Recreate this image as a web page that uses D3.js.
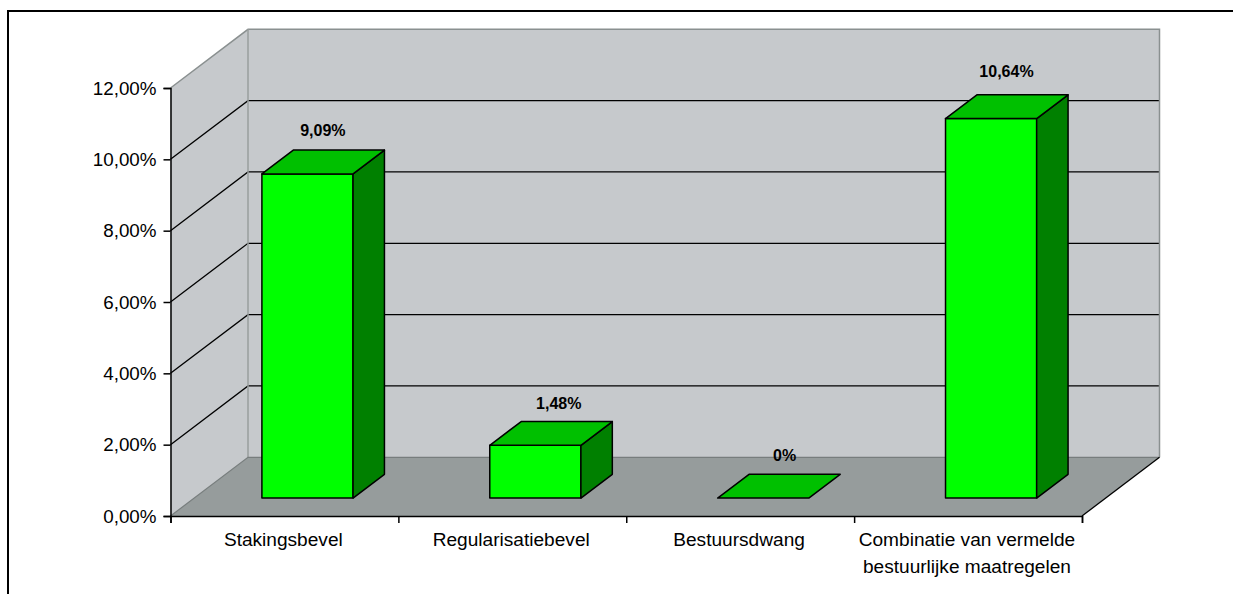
<!DOCTYPE html>
<html><head><meta charset="utf-8">
<script src="https://cdn.jsdelivr.net/npm/d3@7"></script>
<style>html,body{margin:0;padding:0;background:#fff}svg{display:block}text{font-family:"Liberation Sans",Arial,sans-serif;fill:#000}</style>
</head><body><svg id="c" width="1233" height="594"></svg>
<script>
const categories = ["Stakingsbevel","Regularisatiebevel","Bestuursdwang","Combinatie van vermelde|bestuurlijke maatregelen"];
const values = [9.09,1.48,0,10.64];
const valueLabels = ["9,09%","1,48%","0%","10,64%"];
const yTicks = [0,2,4,6,8,10,12];
const yTickLabels = ["0,00%","2,00%","4,00%","6,00%","8,00%","10,00%","12,00%"];
const labelNudgeX = [-16,-8,-10,-16];
const labelNudgeY = [1,2,2,-3];

const svg = d3.select("#c");
const L=170.5,R=1082,B=516,T=88,DX=77.5,DY=-58.7;
const x = d3.scaleBand(categories,[L-0.6,R-0.6]).paddingInner(0.6).paddingOuter(0.3);
const y = d3.scaleLinear([0,12],[B,T]);
const zx = d3.scaleLinear([0,1],[0,DX]);
const zy = d3.scaleLinear([0,1],[0,DY]);
const poly = pts => pts.map(p=>p.join(",")).join(" ");
const P=(px,v,z)=>[px+zx(z),y(v)+zy(z)];

// outer border (open at right and bottom)
svg.append("path").attr("d","M1233,11H8V594").attr("fill","none").attr("stroke","#000").attr("stroke-width",2);

// walls and floor
svg.append("polygon").attr("points",poly([P(L,0,1),P(R,0,1),P(R,12,1),P(L,12,1)])).attr("fill","#c6c9cc");
svg.append("polygon").attr("points",poly([P(L,0,0),P(L,0,1),P(L,12,1),P(L,12,0)])).attr("fill","#c6c9cc");
svg.append("polygon").attr("points",poly([P(L,0,0),P(R,0,0),P(R,0,1),P(L,0,1)])).attr("fill","#969c9c");

// gridlines
yTicks.filter(t=>t>0&&t<12).forEach(t=>{
  svg.append("path").attr("d",d3.line()([P(L,t,0),P(L,t,1),P(R,t,1)])).attr("fill","none").attr("stroke","#000").attr("stroke-width",1.3);
});
// wall edges
const edge="#8a9090";
svg.append("path").attr("d",d3.line()([P(L,12,0),P(L,12,1),P(R,12,1),P(R,0,1)])).attr("fill","none").attr("stroke",edge).attr("stroke-width",1.5);
svg.append("path").attr("d",d3.line()([P(L,12,1),P(L,0,1)])).attr("fill","none").attr("stroke","#999e9e").attr("stroke-width",1.5);
svg.append("path").attr("d",d3.line()([P(L,0,0),P(L,0,1),P(R,0,1)])).attr("fill","none").attr("stroke","#777d7d").attr("stroke-width",1.2);
svg.append("path").attr("d",d3.line()([P(R,0,0),P(R,0,1)])).attr("fill","none").attr("stroke","#000").attr("stroke-width",1.3);

// bars
const Z0=0.305,Z1=0.71;
const bars=svg.append("g").attr("stroke","#000").attr("stroke-width",1.5).attr("stroke-linejoin","round");
categories.forEach((c,i)=>{
  const v=values[i],a=x(c),b=a+x.bandwidth();
  if(v>0){
    bars.append("polygon").attr("points",poly([P(a,0,Z0),P(b,0,Z0),P(b,v,Z0),P(a,v,Z0)])).attr("fill","#00ff00");
    bars.append("polygon").attr("points",poly([P(b,0,Z0),P(b,0,Z1),P(b,v,Z1),P(b,v,Z0)])).attr("fill","#008000");
  }
  bars.append("polygon").attr("points",poly([P(a,v,Z0),P(b,v,Z0),P(b,v,Z1),P(a,v,Z1)])).attr("fill","#00c000");
});

// value labels
categories.forEach((c,i)=>{
  const p=P(x(c)+x.bandwidth()/2,values[i],Z1);
  svg.append("text").attr("x",p[0]+labelNudgeX[i]).attr("y",p[1]-15+labelNudgeY[i])
    .attr("text-anchor","middle").attr("font-size",16).attr("font-weight","bold").text(valueLabels[i]);
});

// axes
const gy=svg.append("g").attr("transform",`translate(${L},0)`)
  .call(d3.axisLeft(y).tickValues(yTicks).tickSize(7).tickPadding(7).tickFormat((d,i)=>yTickLabels[i]));
gy.selectAll("text").attr("font-size",18.8).style("font-family",'"Liberation Sans",Arial,sans-serif');
const gx=svg.append("g").attr("transform",`translate(0,${B})`)
  .call(d3.axisBottom(d3.scaleLinear([0,categories.length],[L,R])).tickValues(d3.range(categories.length+1)).tickSize(7).tickFormat(""));
[gy,gx].forEach(g=>{g.selectAll("line,path").attr("stroke","#000").attr("stroke-width",1.5);});

// category labels
categories.forEach((c,i)=>{
  const cx=x(c)+x.bandwidth()/2-0.5;
  const t=svg.append("text").attr("x",cx).attr("y",545.5).attr("text-anchor","middle").attr("font-size",19.1);
  c.split("|").forEach((s,j)=>t.append("tspan").attr("x",cx).attr("dy",j?27:0).text(s));
});
</script></body></html>
